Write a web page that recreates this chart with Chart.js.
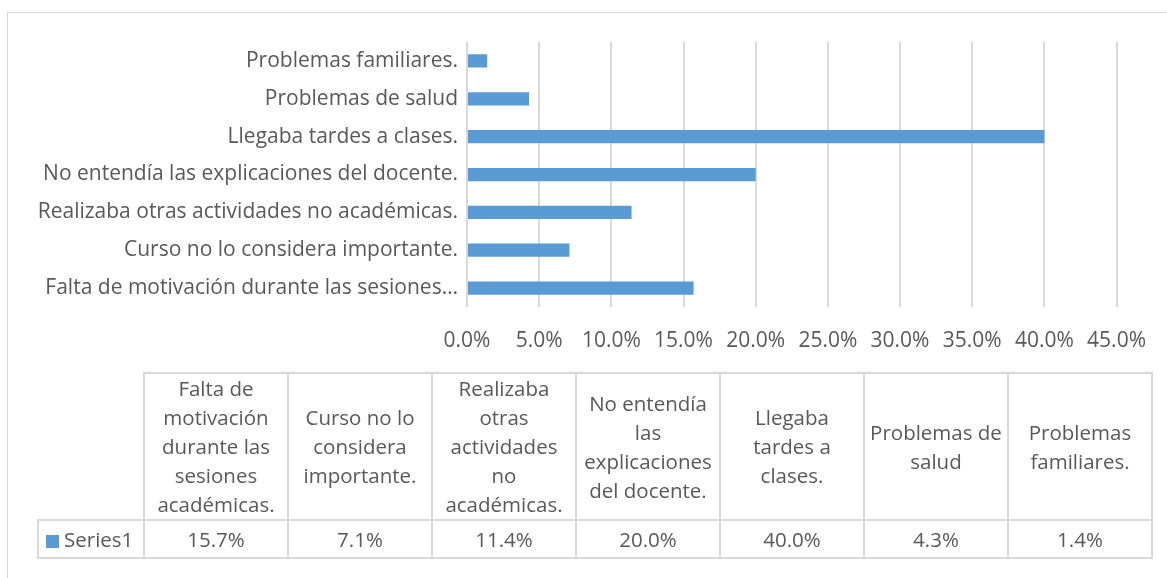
<!DOCTYPE html>
<html>
<head>
<meta charset="utf-8">
<script src="https://cdn.jsdelivr.net/npm/chart.js@4.4.1/dist/chart.umd.min.js"></script>
<style>
  body { margin: 0; width: 1167px; height: 578px; overflow: hidden; background: #fff; position: relative;
         font-family: "Open Sans", Lato, sans-serif; color: #595959; }
  #frame { position: absolute; left: 7px; top: 12px; width: 1200px; height: 600px; border: 1px solid #d9d9d9; }
  #wrap { position: absolute; left: 0; top: 0; width: 1167px; height: 578px; }
  #dataTable { position: absolute; left: 37px; top: 372px; border-collapse: collapse; table-layout: fixed; font-size: 20.5px; }
  #dataTable td { border: 2px solid #d9d9d9; text-align: center; padding: 0 1px; line-height: 29px; }
  #dataTable tr.head td { height: 144px; }
  #dataTable tr.vals td { height: 36px; }
  #dataTable td.corner { border-top: none; border-left: none; }
  #dataTable td.series { text-align: left; padding-left: 7px; white-space: nowrap; }
  .key { display: inline-block; width: 13px; height: 13px; background: #5b9bd5; margin-right: 5px; vertical-align: -1px; }
</style>
</head>
<body>
<div id="frame"></div>
<div id="wrap"><canvas id="myChart" width="1167" height="578"></canvas></div>
<table id="dataTable"></table>
<script>
const categories = [
  "Falta de motivación durante las sesiones académicas.",
  "Curso no lo considera importante.",
  "Realizaba otras actividades no académicas.",
  "No entendía las explicaciones del docente.",
  "Llegaba tardes a clases.",
  "Problemas de salud",
  "Problemas familiares."
];
// how the data table wraps each category name
const tableLines = [
  ["Falta de", "motivación", "durante las", "sesiones", "académicas."],
  ["Curso no lo", "considera", "importante."],
  ["Realizaba", "otras", "actividades", "no", "académicas."],
  ["No entendía", "las", "explicaciones", "del docente."],
  ["Llegaba", "tardes a", "clases."],
  ["Problemas de", "salud"],
  ["Problemas", "familiares."]
];
const seriesName = "Series1";
const values = [15.7, 7.1, 11.4, 20.0, 40.0, 4.3, 1.4];
const xTicks = [0, 5, 10, 15, 20, 25, 30, 35, 40, 45];

const textColor = "#595959";
const gridColor = "#d9d9d9";
const barColor = "#5b9bd5";

function shortLabel(s) {
  return s.length > 45 ? s.slice(0, 40).trim() + "…" : s;
}

// data table under the chart
const table = document.getElementById("dataTable");
let head = '<colgroup><col style="width:106px">' + categories.map(() => '<col style="width:144px">').join("") + "</colgroup>";
head += '<tr class="head"><td class="corner"></td>' + tableLines.map((l) => "<td>" + l.join("<br>") + "</td>").join("") + "</tr>";
head += '<tr class="vals"><td class="series"><span class="key"></span>' + seriesName + "</td>" +
  values.map((v) => "<td>" + v.toFixed(1) + "%</td>").join("") + "</tr>";
table.innerHTML = head;

Chart.defaults.font.family = "'Open Sans', Lato, sans-serif";
Chart.defaults.font.size = 21;
Chart.defaults.color = textColor;

const ctx = document.getElementById("myChart");
const myChart = new Chart(ctx, {
  type: "bar",
  data: {
    labels: categories,
    datasets: [{
      label: seriesName,
      data: values,
      backgroundColor: barColor,
      borderWidth: 0,
      barPercentage: 0.35,
      categoryPercentage: 1.0
    }]
  },
  options: {
    indexAxis: "y",
    responsive: false,
    animation: false,
    events: [],
    layout: { padding: { top: 42, right: 45, left: 0, bottom: 0 } },
    plugins: { legend: { display: false }, tooltip: { enabled: false } },
    scales: {
      x: {
        min: 0,
        max: 45,
        afterBuildTicks: (scale) => { scale.ticks = xTicks.map((v) => ({ value: v })); },
        afterFit: (scale) => { scale.height = 271; },
        grid: { color: gridColor, lineWidth: 2, drawTicks: false },
        border: { display: false },
        ticks: { padding: 21, callback: (v) => Number(v).toFixed(1) + "%" }
      },
      y: {
        reverse: true,
        afterFit: (scale) => { scale.width = 467; },
        grid: { display: false, drawTicks: false },
        border: { display: false },
        ticks: { padding: 9, callback: function (v) { return shortLabel(this.getLabelForValue(v)); } }
      }
    }
  }
});
</script>
</body>
</html>
